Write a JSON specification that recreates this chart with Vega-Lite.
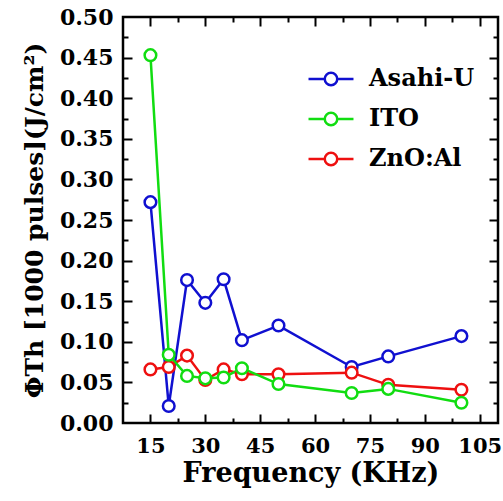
{
  "$schema": "https://vega.github.io/schema/vega-lite/v6.json",
  "width": 375,
  "height": 406,
  "autosize": "none",
  "padding": {"left": 123, "top": 17, "right": 5, "bottom": 78},
  "background": "white",
  "config": {
    "view": {"stroke": "black", "strokeWidth": 2.5},
    "font": "DejaVu Serif",
    "axis": {"domain": false, "grid": false, "tickColor": "black", "tickWidth": 2, "labelColor": "black", "titleColor": "black", "labelFont": "DejaVu Serif", "titleFont": "DejaVu Serif", "labelFontWeight": "bold", "titleFontWeight": "bold", "labelOverlap": false, "labelFlush": false},
    "legend": {"labelFont": "DejaVu Serif"}
  },
  "data": {
    "values": [
      {"film": "Asahi-U", "freq": 15, "phi": 0.272},
      {"film": "Asahi-U", "freq": 20, "phi": 0.021},
      {"film": "Asahi-U", "freq": 25, "phi": 0.176},
      {"film": "Asahi-U", "freq": 30, "phi": 0.148},
      {"film": "Asahi-U", "freq": 35, "phi": 0.177},
      {"film": "Asahi-U", "freq": 40, "phi": 0.102},
      {"film": "Asahi-U", "freq": 50, "phi": 0.120},
      {"film": "Asahi-U", "freq": 70, "phi": 0.069},
      {"film": "Asahi-U", "freq": 80, "phi": 0.082},
      {"film": "Asahi-U", "freq": 100, "phi": 0.107},
      {"film": "ZnO:Al", "freq": 15, "phi": 0.066},
      {"film": "ZnO:Al", "freq": 20, "phi": 0.069},
      {"film": "ZnO:Al", "freq": 25, "phi": 0.083},
      {"film": "ZnO:Al", "freq": 30, "phi": 0.053},
      {"film": "ZnO:Al", "freq": 35, "phi": 0.066},
      {"film": "ZnO:Al", "freq": 40, "phi": 0.060},
      {"film": "ZnO:Al", "freq": 50, "phi": 0.060},
      {"film": "ZnO:Al", "freq": 70, "phi": 0.062},
      {"film": "ZnO:Al", "freq": 80, "phi": 0.047},
      {"film": "ZnO:Al", "freq": 100, "phi": 0.041},
      {"film": "ITO", "freq": 15, "phi": 0.453},
      {"film": "ITO", "freq": 20, "phi": 0.084},
      {"film": "ITO", "freq": 25, "phi": 0.058},
      {"film": "ITO", "freq": 30, "phi": 0.055},
      {"film": "ITO", "freq": 35, "phi": 0.056},
      {"film": "ITO", "freq": 40, "phi": 0.0675},
      {"film": "ITO", "freq": 50, "phi": 0.048},
      {"film": "ITO", "freq": 70, "phi": 0.037},
      {"film": "ITO", "freq": 80, "phi": 0.042},
      {"film": "ITO", "freq": 100, "phi": 0.025}
    ]
  },
  "resolve": {"axis": {"x": "independent", "y": "independent"}},
  "layer": [
    {
      "mark": {"type": "line", "strokeWidth": 2.5},
      "encoding": {
        "x": {"field": "freq", "type": "quantitative", "scale": {"domain": [7.5, 110], "nice": false, "zero": false},
          "axis": {"orient": "bottom", "values": [15, 30, 45, 60, 75, 90, 105], "ticks": false, "labelFontSize": 21, "labelPadding": 12, "title": "Frequency (KHz)", "titleFontSize": 27, "titlePadding": 4}},
        "y": {"field": "phi", "type": "quantitative", "scale": {"domain": [0, 0.5], "nice": false, "zero": true},
          "axis": {"orient": "left", "values": [0, 0.05, 0.1, 0.15, 0.2, 0.25, 0.3, 0.35, 0.4, 0.45, 0.5], "format": ".2f", "ticks": false, "labelFontSize": 22, "labelPadding": 10, "title": "ΦTh [1000 pulses](J/cm²)", "titleFontSize": 25, "titlePadding": 12}},
        "color": {"field": "film", "type": "nominal",
          "scale": {"domain": ["Asahi-U", "ITO", "ZnO:Al"], "range": ["#1010D0", "#11DD11", "#EE1010"]},
          "legend": {"orient": "none", "legendX": 196, "legendY": 50, "title": null, "labelFontSize": 24, "labelFontWeight": "bold", "labelColor": "black", "labelOffset": 26, "rowPadding": 16,
            "symbolType": "M-3.6,0H-1M1,0H3.6M-1,0A1,1,0,1,0,1,0A1,1,0,1,0,-1,0", "symbolSize": 156, "symbolStrokeWidth": 2.5,
            "encode": {"symbols": {"update": {"fill": {"value": "white"}, "strokeWidth": {"value": 2.5}}}}}}
      }
    },
    {
      "mark": {"type": "point", "shape": "circle", "filled": true, "fill": "white", "size": 135, "strokeWidth": 2.5, "opacity": 1},
      "encoding": {
        "x": {"field": "freq", "type": "quantitative", "axis": {"orient": "bottom", "values": [15, 30, 45, 60, 75, 90, 105], "labels": false, "tickSize": -9, "title": null}},
        "y": {"field": "phi", "type": "quantitative", "axis": {"orient": "left", "values": [0.05, 0.1, 0.15, 0.2, 0.25, 0.3, 0.35, 0.4, 0.45], "labels": false, "tickSize": -9, "title": null}},
        "stroke": {"field": "film", "type": "nominal", "scale": {"domain": ["Asahi-U", "ITO", "ZnO:Al"], "range": ["#1010D0", "#11DD11", "#EE1010"]}, "legend": null}
      }
    },
    {
      "mark": {"type": "point", "opacity": 0},
      "encoding": {
        "x": {"field": "freq", "type": "quantitative", "axis": {"orient": "bottom", "values": [22.5, 37.5, 52.5, 67.5, 82.5, 97.5], "labels": false, "tickSize": -5, "title": null}},
        "y": {"field": "phi", "type": "quantitative", "axis": {"orient": "left", "values": [0.025, 0.075, 0.125, 0.175, 0.225, 0.275, 0.325, 0.375, 0.425, 0.475], "labels": false, "tickSize": -5, "title": null}}
      }
    },
    {
      "mark": {"type": "point", "opacity": 0},
      "encoding": {
        "x": {"field": "freq", "type": "quantitative", "axis": {"orient": "top", "values": [15, 30, 45, 60, 75, 90, 105], "labels": false, "tickSize": -9, "title": null}},
        "y": {"field": "phi", "type": "quantitative", "axis": {"orient": "right", "values": [0.05, 0.1, 0.15, 0.2, 0.25, 0.3, 0.35, 0.4, 0.45], "labels": false, "tickSize": -9, "title": null}}
      }
    },
    {
      "mark": {"type": "point", "opacity": 0},
      "encoding": {
        "x": {"field": "freq", "type": "quantitative", "axis": {"orient": "top", "values": [22.5, 37.5, 52.5, 67.5, 82.5, 97.5], "labels": false, "tickSize": -5, "title": null}},
        "y": {"field": "phi", "type": "quantitative", "axis": {"orient": "right", "values": [0.025, 0.075, 0.125, 0.175, 0.225, 0.275, 0.325, 0.375, 0.425, 0.475], "labels": false, "tickSize": -5, "title": null}}
      }
    }
  ]
}
